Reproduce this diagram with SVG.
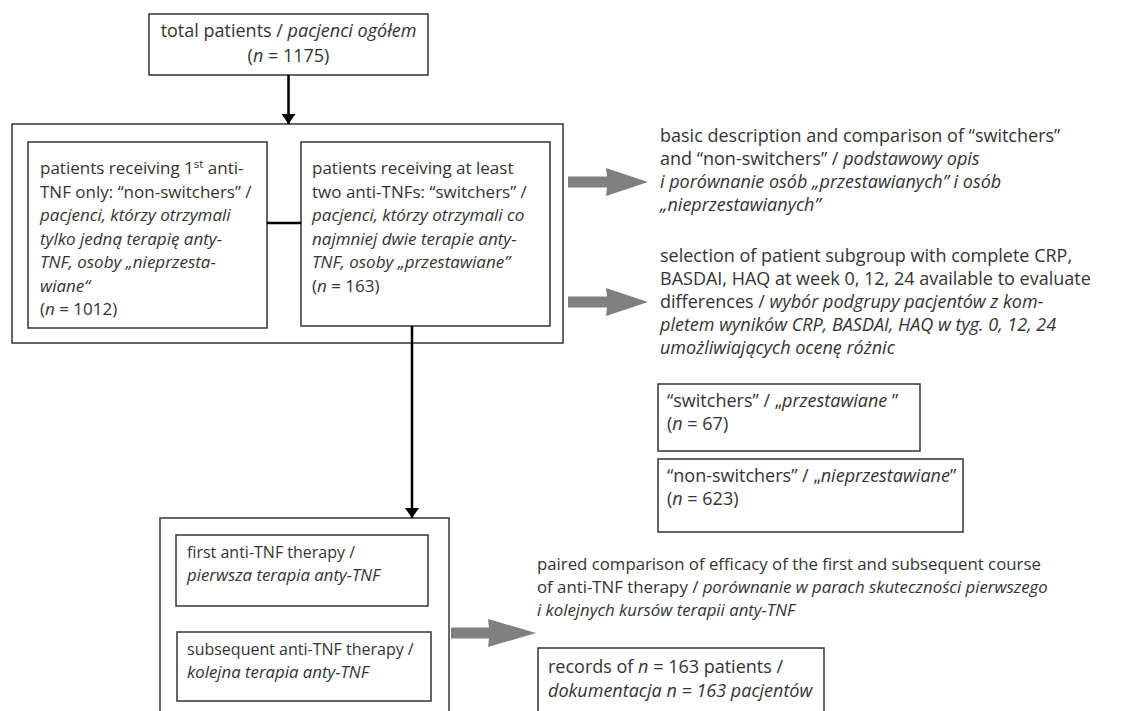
<svg xmlns="http://www.w3.org/2000/svg" width="1121" height="711" viewBox="0 0 1121 711">
<style>
.box{fill:#fff;stroke:#333;stroke-width:1.5}
text{font-family:"Open Sans","Liberation Sans",sans-serif;font-size:18px;fill:#333}
.t17{font-size:17px}
.t16{font-size:16px}
.t16 .i,.t16.i{font-size:16.8px}
.sm{font-size:16.8px}
.i{font-style:italic}
.blk{stroke:#000;stroke-width:2.5;fill:none}
.gray{fill:#808080}
</style>
<defs>
<marker id="ah" viewBox="0 0 10 14" refX="10" refY="7" markerWidth="10" markerHeight="14" markerUnits="userSpaceOnUse" orient="auto">
<path d="M0,0 L10,7 L0,14 Z" fill="#000"/>
</marker>
</defs>
<rect width="1121" height="711" fill="#fff"/>

<g id="total">
<rect class="box" x="149" y="14" width="279" height="61"/>
<text x="288.5" y="37" text-anchor="middle" font-size="17.4">total patients / <tspan class="i">pacjenci ogółem</tspan></text>
<text x="288.5" y="62" text-anchor="middle" font-size="17.4">(<tspan class="i">n</tspan> = 1175)</text>
</g>

<g id="group1">
<rect class="box" x="12" y="124" width="551" height="219"/>
</g>

<g id="nonswitchers">
<rect class="box" x="28" y="142" width="239" height="186"/>
<text class="t17" x="40" y="174">patients receiving 1<tspan font-size="11.5" dy="-6">st</tspan><tspan dy="6"> anti-</tspan></text>
<text class="t17" x="40" y="197.5">TNF only: “non-switchers” /</text>
<text class="t17 i" x="40" y="221">pacjenci, którzy otrzymali</text>
<text class="t17 i" x="40" y="244.5">tylko jedną terapię anty-</text>
<text class="t17 i" x="40" y="268">TNF, osoby „nieprzesta-</text>
<text class="t17 i" x="40" y="291.5">wiane“</text>
<text class="t17" x="40" y="315">(<tspan class="i">n</tspan> = 1012)</text>
</g>

<g id="switchers">
<rect class="box" x="301" y="142" width="249" height="184"/>
<text class="t17" x="312" y="174">patients receiving at least</text>
<text class="t17" x="312" y="197.5">two anti-TNFs: “switchers” /</text>
<text class="t17 i" x="312" y="221">pacjenci, którzy otrzymali co</text>
<text class="t17 i" x="312" y="244.5">najmniej dwie terapie anty-</text>
<text class="t17 i" x="312" y="268">TNF, osoby „przestawiane”</text>
<text class="t17" x="312" y="291.5">(<tspan class="i">n</tspan> = 163)</text>
</g>

<g id="desc1">
<text x="660" y="142">basic description and comparison of “switchers”</text>
<text x="660" y="165">and “non-switchers” / <tspan class="i">podstawowy opis</tspan></text>
<text x="660" y="188" class="i">i porównanie osób „przestawianych” i osób</text>
<text x="660" y="211" class="i">„nieprzestawianych”</text>
</g>

<g id="desc2">
<text x="660" y="262">selection of patient subgroup with complete CRP,</text>
<text x="660" y="285">BASDAI, HAQ at week 0, 12, 24 available to evaluate</text>
<text x="660" y="308">differences / <tspan class="i">wybór podgrupy pacjentów z kom-</tspan></text>
<text x="660" y="331" class="i">pletem wyników CRP, BASDAI, HAQ w tyg. 0, 12, 24</text>
<text x="660" y="354" class="i">umożliwiających ocenę różnic</text>
</g>

<g id="sub-switchers">
<rect class="box" x="658" y="384" width="262" height="67"/>
<text x="667" y="407">“switchers” / „<tspan class="i">przestawiane</tspan> ”</text>
<text x="667" y="430">(<tspan class="i">n</tspan> = 67)</text>
</g>

<g id="sub-nonswitchers">
<rect class="box" x="658" y="459" width="305" height="73"/>
<text x="667" y="482">“non-switchers” / „<tspan class="i">nieprzestawiane</tspan>”</text>
<text x="667" y="505">(<tspan class="i">n</tspan> = 623)</text>
</g>

<g id="group2">
<rect class="box" x="160" y="518" width="289" height="210"/>
</g>

<g id="first">
<rect class="box" x="176" y="535" width="252" height="71"/>
<text class="t16" x="187" y="558">first anti-TNF therapy /</text>
<text class="t16 i" x="187" y="581">pierwsza terapia anty-TNF</text>
</g>

<g id="subsequent">
<rect class="box" x="177" y="632" width="254" height="69"/>
<text class="t16" x="187" y="655">subsequent anti-TNF therapy /</text>
<text class="t16 i" x="187" y="678">kolejna terapia anty-TNF</text>
</g>

<g id="paired">
<text class="sm" x="537" y="570">paired comparison of efficacy of the first and subsequent course</text>
<text class="sm" x="537" y="593">of anti-TNF therapy / <tspan class="i">porównanie w parach skuteczności pierwszego</tspan></text>
<text class="sm i" x="537" y="616">i kolejnych kursów terapii anty-TNF</text>
</g>

<g id="records">
<rect class="box" x="538" y="648" width="286" height="80"/>
<text x="548" y="673" font-size="16.6">records of <tspan class="i">n</tspan> = 163 patients /</text>
<text class="i" x="548" y="697" font-size="17.2">dokumentacja n = 163 pacjentów</text>
</g>

<g id="connectors">
<line class="blk" x1="288.5" y1="75" x2="288.5" y2="124" marker-end="url(#ah)"/>
<line class="blk" x1="267" y1="223" x2="301" y2="223"/>
<line class="blk" x1="412" y1="326" x2="412" y2="518" marker-end="url(#ah)"/>
<path class="gray" d="M568,176.5 L607,176.5 L606,168 L648,182 L606,196 L607,187.5 L568,187.5 Z"/>
<path class="gray" d="M568,296.5 L607,296.5 L606,288 L648,302 L606,316 L607,307.5 L568,307.5 Z"/>
<path class="gray" d="M451,627.5 L489,627.5 L488,619 L536,633 L488,647 L489,638.5 L451,638.5 Z"/>
</g>
</svg>
